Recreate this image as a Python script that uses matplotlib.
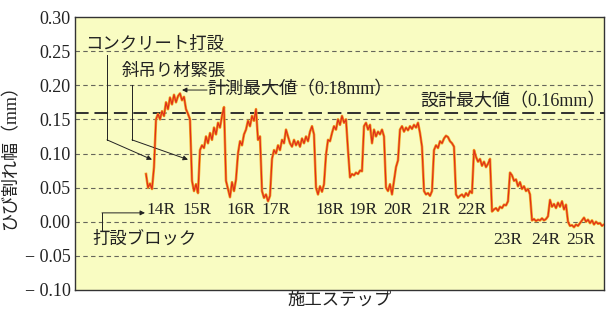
import matplotlib
matplotlib.use("Agg")
import matplotlib.pyplot as plt
import numpy as np

# crack width readings (mm), one per construction step
crack_width = [
    0.070, 0.050, 0.056, 0.048, 0.080, 0.150, 0.158, 0.150, 0.162, 0.155,
    0.175, 0.165, 0.182, 0.172, 0.186, 0.175, 0.184, 0.188, 0.178, 0.183,
    0.165, 0.158, 0.150, 0.060, 0.045, 0.055, 0.042, 0.105, 0.112, 0.108,
    0.125, 0.115, 0.130, 0.120, 0.138, 0.128, 0.145, 0.138, 0.155, 0.168,
    0.060, 0.048, 0.036, 0.058, 0.045, 0.062, 0.100, 0.118, 0.112, 0.128,
    0.135, 0.148, 0.140, 0.155, 0.148, 0.165, 0.120, 0.125, 0.045, 0.035,
    0.040, 0.030, 0.038, 0.092, 0.105, 0.100, 0.112, 0.105, 0.120, 0.115,
    0.135, 0.125, 0.115, 0.110, 0.120, 0.112, 0.118, 0.110, 0.122, 0.115,
    0.125, 0.118, 0.132, 0.140, 0.128, 0.050, 0.040, 0.052, 0.044, 0.055,
    0.098, 0.120, 0.118, 0.130, 0.140, 0.135, 0.150, 0.142, 0.155, 0.145,
    0.150, 0.105, 0.065, 0.070, 0.068, 0.072, 0.070, 0.075, 0.074, 0.140,
    0.145, 0.135, 0.142, 0.115, 0.135, 0.125, 0.132, 0.128, 0.135, 0.125,
    0.050, 0.045, 0.055, 0.040, 0.060, 0.080, 0.090, 0.135, 0.140, 0.132,
    0.138, 0.134, 0.140, 0.136, 0.142, 0.138, 0.145, 0.130, 0.110, 0.045,
    0.040, 0.042, 0.038, 0.045, 0.105, 0.112, 0.108, 0.118, 0.115, 0.122,
    0.126, 0.124, 0.118, 0.115, 0.110, 0.040, 0.035, 0.038, 0.040, 0.036,
    0.042, 0.038, 0.045, 0.042, 0.105, 0.095, 0.088, 0.092, 0.082, 0.088,
    0.080, 0.085, 0.092, 0.015, 0.018, 0.020, 0.016, 0.022, 0.020, 0.025,
    0.024, 0.030, 0.072, 0.068, 0.060, 0.062, 0.052, 0.058, 0.048, 0.052,
    0.045, 0.048, 0.040, 0.002, 0.004, 0.001, 0.003, 0.002, 0.005, 0.002,
    0.004, 0.008, 0.032, 0.022, 0.026, 0.020, 0.028, 0.022, 0.030, 0.018,
    0.025, 0.000, -0.006, -0.005, -0.008, -0.004, -0.006, -0.002, 0.002, 0.006,
    0.000, 0.003, -0.002, 0.002, -0.004, 0.000, -0.003, -0.002, -0.006, -0.004,
]
steps = np.arange(len(crack_width))

design_max = 0.16
yticks = [0.30, 0.25, 0.20, 0.15, 0.10, 0.05, 0.00, -0.05, -0.10]
ytick_labels = ["0.30", "0.25", "0.20", "0.15", "0.10", "0.05", "0.00",
                "\u2212 0.05", "\u2212 0.10"]

block_labels = ["14R", "15R", "16R", "17R", "18R", "19R", "20R", "21R", "22R",
                "23R", "24R", "25R"]
block_label_px = [161, 197, 241, 276, 330, 363, 398, 436, 472, 508, 546, 581]
block_label_y = [0.017] * 9 + [-0.027] * 3

JP = ["Liberation Serif", "Noto Sans CJK JP", "DejaVu Sans"]
SERIF = "Liberation Serif"
TXT = "#222222"


def px(x):
    # image pixel column -> step index
    return (x - 146) / 2


fig = plt.figure(figsize=(6.08, 3.14), dpi=100)
ax = fig.add_axes([75 / 608, 24 / 314, 529 / 608, 273 / 314])
ax.set_facecolor("#f9fcc2")

for v in yticks[1:-1]:
    ax.axhline(v, color="#66665a", lw=0.8, ls=(0, (4, 3)), zorder=1)
ax.axhline(design_max, color="#303030", lw=1.4, ls=(0, (7, 3)), zorder=2)

ax.plot(steps, crack_width, color="#f2a424", lw=1.9, zorder=3,
        solid_joinstyle="round")
ax.plot(steps, crack_width, color="#e0301a", lw=0.9, zorder=4,
        solid_joinstyle="round")

ax.set_xlim(px(75), px(604))
ax.set_ylim(-0.10, 0.30)
ax.set_xticks([])
ax.set_yticks(yticks)
ax.set_yticklabels(ytick_labels, fontfamily=SERIF, fontsize=13, color=TXT)
ax.tick_params(axis="y", length=0, pad=3)
for s in ax.spines.values():
    s.set_color("#333333")
    s.set_linewidth(1.0)

ax.set_ylabel("ひび割れ幅（mm）", fontfamily=JP, fontsize=13, color=TXT,
              labelpad=4)
ax.set_xlabel("施工ステップ", fontfamily=JP, fontsize=12.5, color=TXT,
              labelpad=2)

for lab, x, y in zip(block_labels, block_label_px, block_label_y):
    ax.text(px(x), y, lab, fontfamily=SERIF, fontsize=12.5, color=TXT,
            ha="center", va="center")

arrow = dict(arrowstyle="-|>", color="#222222", lw=0.7,
             mutation_scale=7, shrinkA=0, shrinkB=0)

# コンクリート打設
ax.text(px(85), 0.26, "コンクリート打設", fontfamily=JP, fontsize=12.5,
        color=TXT, ha="left", va="center")
ax.plot([px(107), px(107)], [0.245, 0.12], color="#222222", lw=0.7)
ax.annotate("", xy=(px(152), 0.091), xytext=(px(107), 0.12), arrowprops=arrow)

# 斜吊り材緊張
ax.text(px(122), 0.219, "斜吊り材緊張", fontfamily=JP, fontsize=12.5,
        color=TXT, ha="left", va="center")
ax.plot([px(132), px(132)], [0.2, 0.12], color="#222222", lw=0.7)
ax.annotate("", xy=(px(188), 0.091), xytext=(px(132), 0.12), arrowprops=arrow)

# 計測最大値
ax.text(px(207), 0.193, "計測最大値（0.18mm）", fontfamily=JP, fontsize=13,
        color=TXT, ha="left", va="center")
ax.annotate("", xy=(px(182), 0.193), xytext=(px(207), 0.193), arrowprops=arrow)

# 設計最大値
ax.text(px(606), 0.176, "設計最大値（0.16mm）", fontfamily=JP, fontsize=13,
        color=TXT, ha="right", va="center")

# 打設ブロック
ax.text(px(92), -0.026, "打設ブロック", fontfamily=JP, fontsize=12.5,
        color=TXT, ha="left", va="center")
ax.plot([px(102), px(102)], [-0.012, 0.013], color="#222222", lw=0.7)
ax.annotate("", xy=(px(145), 0.013), xytext=(px(102), 0.013), arrowprops=arrow)

fig.savefig("out.png", dpi=100)
